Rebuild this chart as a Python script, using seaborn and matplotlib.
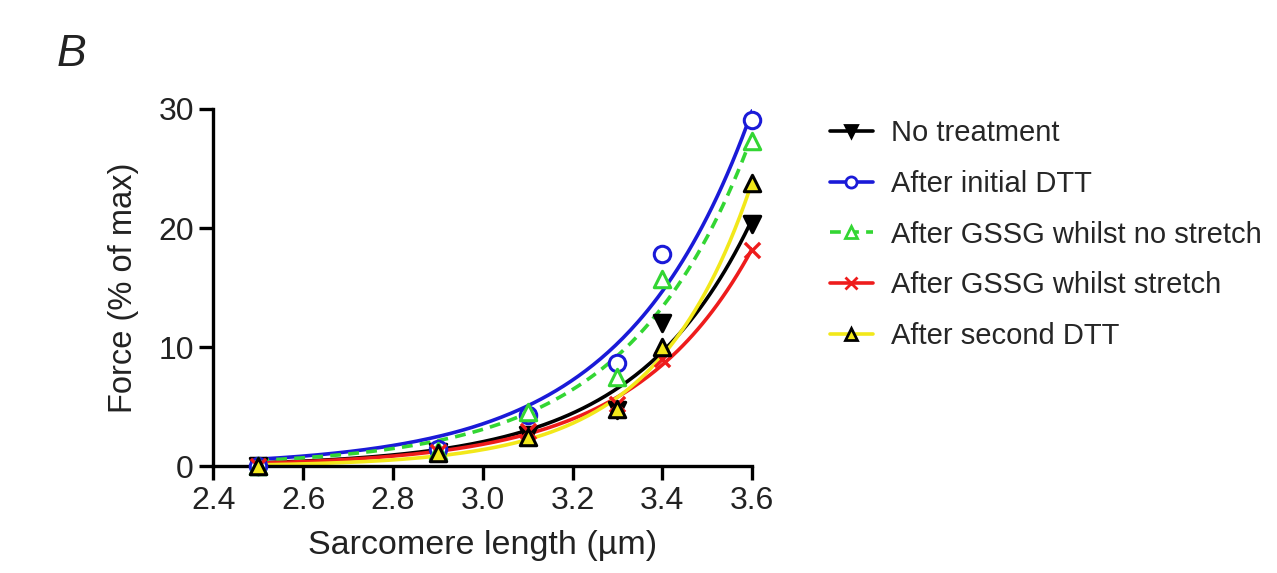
import numpy as np
import pandas as pd
import matplotlib
matplotlib.use("Agg")
import matplotlib.pyplot as plt
from matplotlib.lines import Line2D
import seaborn as sns

# data
sarcomere_length = [2.5, 2.9, 3.1, 3.3, 3.4, 3.6]
no_treatment = [0.0, 1.2, 2.6, 4.7, 12.0, 20.3]
initial_dtt = [0.0, 1.5, 4.3, 8.7, 17.8, 29.1]
gssg_no_stretch = [0.0, 1.3, 4.6, 7.5, 15.7, 27.3]
gssg_stretch = [0.0, 1.2, 3.0, 5.2, 9.0, 18.2]
second_dtt = [0.0, 1.1, 2.5, 4.8, 10.0, 23.8]

labels = ["No treatment", "After initial DTT", "After GSSG whilst no stretch",
          "After GSSG whilst stretch", "After second DTT"]
series = [no_treatment, initial_dtt, gssg_no_stretch, gssg_stretch, second_dtt]

styles = [
    dict(color="black", marker="v", mfc="black", mec="black", ls="-"),
    dict(color="#1a1ad8", marker="o", mfc="white", mec="#1a1ad8", ls="-"),
    dict(color="#33d633", marker="^", mfc="white", mec="#33d633", ls=(0, (3, 2))),
    dict(color="#ee1c1c", marker="x", mfc="#ee1c1c", mec="#ee1c1c", ls="-"),
    dict(color="#f2e81a", marker="^", mfc="#f2e81a", mec="black", ls="-"),
]


def exp_fit(x, y):
    # exponential growth y = A*exp(k*(x-2.5)); grid over k, least squares for A
    x = np.asarray(x)
    y = np.asarray(y)
    best = None
    for k in np.linspace(1, 8, 701):
        e = np.exp(k * (x - 2.5))
        a = (e @ y) / (e @ e)
        err = np.sum((a * e - y) ** 2)
        if best is None or err < best[0]:
            best = (err, k, a)
    _, k, a = best
    xs = np.linspace(2.5, 3.6, 200)
    return xs, a * np.exp(k * (xs - 2.5))


sns.set_theme(style="ticks")
plt.rcParams["font.family"] = ["Liberation Sans", "DejaVu Sans"]

fig = plt.figure(figsize=(12.77, 5.73), dpi=100)
ax = fig.add_axes([0.167, 0.186, 0.422, 0.624])

# fitted curves
for y, st in zip(series, styles):
    xs, ys = exp_fit(sarcomere_length, y)
    curve = pd.DataFrame({"x": xs, "y": ys})
    sns.lineplot(data=curve, x="x", y="y", ax=ax, color=st["color"],
                 linewidth=2.6, linestyle=st["ls"], zorder=2)

# data points
for y, st in zip(series, styles):
    pts = pd.DataFrame({"x": sarcomere_length, "y": y})
    if st["marker"] == "x":
        sns.scatterplot(data=pts, x="x", y="y", ax=ax, marker="x", s=120,
                        color=st["color"], linewidth=2.4, zorder=3, clip_on=False)
    else:
        sns.scatterplot(data=pts, x="x", y="y", ax=ax, marker=st["marker"], s=140,
                        facecolor=st["mfc"], edgecolor=st["mec"], linewidth=2.2,
                        zorder=3, clip_on=False)

ax.set_xlim(2.4, 3.6)
ax.set_ylim(0, 30)
ax.set_xticks(np.arange(2.4, 3.61, 0.2))
ax.set_xticklabels([f"{v:.1f}" for v in np.arange(2.4, 3.61, 0.2)])
ax.set_yticks([0, 10, 20, 30])
ax.tick_params(labelsize=23, width=2.4, length=10, pad=4, colors="black",
               labelcolor="#222222")
for side in ["left", "bottom"]:
    ax.spines[side].set_linewidth(2.4)
    ax.spines[side].set_color("black")
sns.despine(ax=ax)
ax.set_xlabel("Sarcomere length (µm)", fontsize=24.5, color="#222222", labelpad=10)
ax.set_ylabel("Force (% of max)", fontsize=23.5, color="#222222", labelpad=14)

handles = [Line2D([0], [0], color=st["color"], lw=2.6, linestyle=st["ls"],
                  marker=st["marker"], markersize=8, mfc=st["mfc"], mec=st["mec"], mew=2)
           for st in styles]
ax.legend(handles, labels, loc="upper left", bbox_to_anchor=(1.095, 1.045),
          frameon=False, fontsize=21, handlelength=1.5, labelspacing=0.78,
          handletextpad=0.6)

fig.text(0.044, 0.885, "B", fontsize=32, style="italic", color="#222222")

fig.savefig("out.png", dpi=100)
